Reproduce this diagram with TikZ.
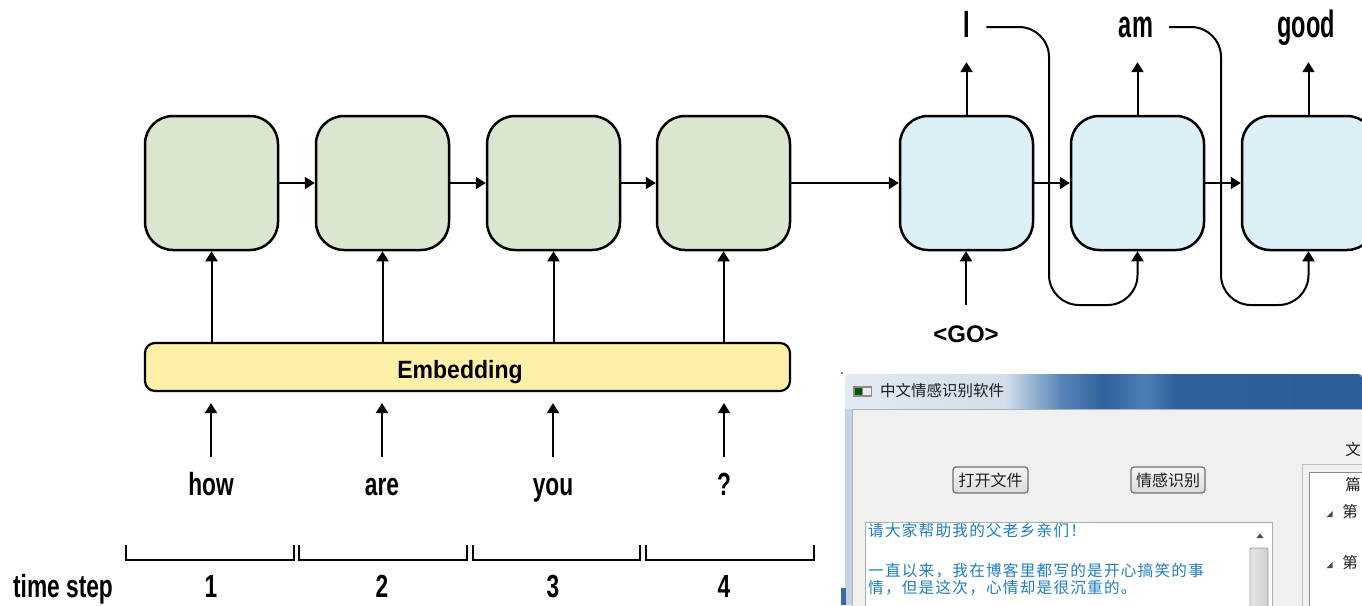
\documentclass[tikz,border=0pt]{standalone}
\usepackage{fontspec}
\setmainfont{Liberation Sans}
\newfontfamily\lab[FakeStretch=0.71]{Liberation Sans Bold}
\newfontfamily\labtop[FakeStretch=0.62]{Liberation Sans Bold}
\newfontfamily\embf[FakeStretch=0.92]{Liberation Sans}
\newfontfamily\cjk{Noto Sans CJK SC}
\newfontfamily\cjkw[LetterSpace=8]{Noto Sans CJK SC}
\usetikzlibrary{arrows.meta}
\definecolor{encfill}{HTML}{DAE6D0}
\definecolor{decfill}{HTML}{DCEEF6}
\definecolor{embfill}{HTML}{FCF0A8}
\definecolor{tb1}{HTML}{E2E9F1}
\definecolor{tb2}{HTML}{D3DEEA}
\definecolor{tb3}{HTML}{5A86B9}
\definecolor{tb4}{HTML}{30619E}
\definecolor{tb5}{HTML}{4F7FB6}
\definecolor{tb6}{HTML}{2C5C99}
\definecolor{frameL}{HTML}{C4D3E3}
\definecolor{framedk}{HTML}{3A6AA5}
\definecolor{client}{HTML}{F0F0F0}
\definecolor{clientb}{HTML}{A7B2BF}
\definecolor{btnT}{HTML}{F6F6F6}
\definecolor{btnB}{HTML}{DADADA}
\definecolor{btnD}{HTML}{707070}
\definecolor{tbB}{HTML}{ABADB3}
\definecolor{cnblue}{HTML}{1E7DC3}
\definecolor{thumbL}{HTML}{E6E6E6}
\definecolor{thumbR}{HTML}{CFCFCF}
\definecolor{titletxt}{HTML}{1E1E1E}
\pgfdeclarehorizontalshading{tbar}{100bp}{color(0bp)=(tb1); color(25bp)=(tb1); color(40.5bp)=(tb2); color(45.8bp)=(tb3); color(50.1bp)=(tb4); color(54bp)=(tb5); color(56.9bp)=(tb4); color(75bp)=(tb6); color(100bp)=(tb6)}
\begin{document}
\begin{tikzpicture}[x=1pt,y=-1pt,
  ebox/.style={draw=black, line width=2.5pt, rounded corners=28pt, fill=encfill, minimum width=133pt, minimum height=134pt, inner sep=0pt},
  dbox/.style={ebox, fill=decfill},
  arr/.style={line width=2pt, -{Triangle[length=10pt,width=12pt]}},
  topword/.style={font=\labtop\fontsize{38}{40}\selectfont, anchor=base, text height=27pt, text depth=7pt, inner xsep=16pt, inner ysep=18pt},
  inword/.style={font=\lab\fontsize{32}{36}\selectfont, anchor=base, text height=23pt, text depth=0pt, inner ysep=15pt},
  steplabel/.style={font=\lab\fontsize{32}{36}\selectfont, anchor=base, inner sep=0pt},
  brk/.style={line width=2pt},
  cjktext/.style={font=\cjkw\fontsize{15.6}{16}\selectfont, text=cnblue, anchor=west, inner sep=0pt},
  uitext/.style={font=\cjk\fontsize{15.5}{16}\selectfont, text=titletxt, inner sep=0pt},
  btn/.style={top color=btnT, bottom color=btnB, draw=btnD, line width=1.2pt, rounded corners=3pt},
]
\useasboundingbox (0,0) rectangle (1362,605);
\fill[white] (0,0) rectangle (1362,605);

% encoder cells
\node[ebox] (e1) at (211.5,183) {};
\node[ebox] (e2) at (382.5,183) {};
\node[ebox] (e3) at (553.5,183) {};
\node[ebox] (e4) at (723.5,183) {};
% decoder cells
\node[dbox] (d1) at (966.5,183) {};
\node[dbox] (d2) at (1137.5,183) {};
\node[dbox] (d3) at (1308.5,183) {};

% embedding
\node[draw=black, line width=2.2pt, rounded corners=10pt, fill=embfill, minimum width=645pt, minimum height=48pt, inner sep=0pt] (emb) at (467.5,367) {};
\node[font=\embf\bfseries\fontsize{25}{28}\selectfont, anchor=base, inner sep=0pt] (embtxt) at (460,378) {Embedding};

% input words
\node[inword] (w1) at (211,495) {how};
\node[inword] (w2) at (382,495) {are};
\node[inword] (w3) at (553,495) {you};
\node[inword] (w4) at (724,495) {?};

% output words
\node[topword] (wI) at (967,37) {I};
\node[topword] (wam) at (1136,37) {am};
\node[topword] (wgood) at (1306,37) {good};

% GO
\node[font=\bfseries\fontsize{24}{26}\selectfont, anchor=base, text height=17pt, text depth=0pt, inner ysep=20pt] (go) at (966,342) {<GO>};

% time steps
\node[steplabel] (ts) at (63,597) {time step};
\node[steplabel] (n1) at (211,597) {1};
\node[steplabel] (n2) at (382,597) {2};
\node[steplabel] (n3) at (553,597) {3};
\node[steplabel] (n4) at (724,597) {4};
\draw[brk] (126,545) |- (294,560) -- (294,545);
\draw[brk] (299,545) |- (467,560) -- (467,545);
\draw[brk] (473,545) |- (640,560) -- (640,545);
\draw[brk] (646,545) |- (814,560) -- (814,545);

% recurrent arrows
\draw[arr] (e1.east) -- (e2.west);
\draw[arr] (e2.east) -- (e3.west);
\draw[arr] (e3.east) -- (e4.west);
\draw[arr] (e4.east) -- (d1.west);
\draw[arr] (d1.east) -- (d2.west);
\draw[arr] (d2.east) -- (d3.west);

% embedding to cells
\foreach \c in {e1,e2,e3,e4} {
  \draw[arr] (emb.north -| \c.south) -- (\c.south);
}
% words to embedding
\foreach \w in {w1,w2,w3,w4} {
  \draw[arr, shorten >=11pt] (\w.north) -- (\w.north |- emb.south);
}
% decoder outputs
\draw[arr] (d1.north) -- (d1.north |- wI.south);
\draw[arr] (d2.north) -- (d2.north |- wam.south);
\draw[arr] (d3.north) -- (d3.north |- wgood.south);
\draw[arr] (go.north) -- (go.north |- d1.south);
% feedback loops
\coordinate (lp1) at (1049,305);
\coordinate (lp2) at (1221,305);
\draw[arr, rounded corners=30pt] (wI.east) -| (lp1) -| (d2.south);
\draw[arr, rounded corners=30pt] (wam.east) -| (lp2) -| (d3.south);

% ---------- screenshot ----------
\fill[frameL] (845,405) rectangle (852,605);
\fill[framedk] (841,588) rectangle (846,605);
\fill[black!70] (842,373) circle (1.2pt);
\shade[shading=tbar] (845,409) [rounded corners=4pt] -- (845,374) -- (1362,374) [sharp corners] -- (1362,409) -- cycle;
\filldraw[fill=client, draw=clientb, line width=1pt] (852,409) rectangle (1370,615);
% icon
\fill[black!45] (853,386) rectangle (872,397);
\fill[green!35!black] (855,388) rectangle (862,395);
\fill[white!85!gray] (863,388) rectangle (870.5,395);
\node[uitext, anchor=west] (title) at (880,391) {中文情感识别软件};
% buttons
\shade[btn] (953,467) rectangle (1028,493);
\node[uitext, font=\cjk\fontsize{16}{16}\selectfont] (btn1) at (990.5,480.5) {打开文件};
\shade[btn] (1131,467) rectangle (1205,493);
\node[uitext, font=\cjk\fontsize{16}{16}\selectfont] (btn2) at (1168,480.5) {情感识别};
% text area
\filldraw[fill=white, draw=tbB, line width=1pt] (865,522) rectangle (1272,615);
\fill[black!70] (1256.5,538) -- (1263.5,538) -- (1260,533.5) -- cycle;
\shade[left color=thumbL, right color=thumbR, draw=black!40, line width=0.8pt, rounded corners=2pt] (1250,548) rectangle (1268,615);
\node[cjktext] (t1) at (868,531) {请大家帮助我的父老乡亲们！};
\node[cjktext] (t2) at (868,571) {一直以来，我在博客里都写的是开心搞笑的事};
\node[cjktext] (t3) at (868,588) {情，但是这次，心情却是很沉重的。};
% right panel
\node[uitext] (wen) at (1353,449.5) {文};
\draw[black!25, line width=1pt] (1302,615) |- (1370,464);
\filldraw[fill=white, draw=black!45, line width=1pt] (1309,472) rectangle (1370,615);
\node[uitext] (pian) at (1353,485) {篇};
\fill[black!70] (1326.5,517) -- (1332.5,517) -- (1332.5,511) -- cycle;
\node[uitext] (di1) at (1350,512) {第};
\fill[black!70] (1326.5,568) -- (1332.5,568) -- (1332.5,562) -- cycle;
\node[uitext] (di2) at (1350,563) {第};
\end{tikzpicture}
\end{document}
